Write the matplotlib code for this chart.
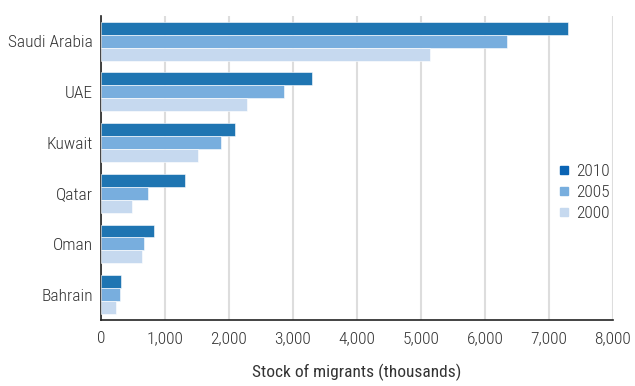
import matplotlib
matplotlib.use("Agg")
import matplotlib.pyplot as plt
from matplotlib.lines import Line2D
import numpy as np

plt.rcParams['font.family'] = ['Roboto Condensed', 'DejaVu Sans']
plt.rcParams['font.weight'] = 'light'

# Stock of migrants (thousands)
countries = ["Saudi Arabia", "UAE", "Kuwait", "Qatar", "Oman", "Bahrain"]
years = ["2010", "2005", "2000"]
stock_2010 = [7300, 3300, 2100, 1320, 835, 320]
stock_2005 = [6350, 2865, 1880, 730, 680, 290]
stock_2000 = [5150, 2290, 1510, 480, 635, 240]
colors = ["#1f75b2", "#78aede", "#c6d9ef"]

text_color = "#333333"
fs = 12.5

fig = plt.figure(figsize=(6.35, 3.86), dpi=100)
ax = fig.add_axes([0.159, 0.171, 0.806, 0.788])

y = np.arange(len(countries))
bar_h = 0.255
for i, (vals, c) in enumerate(zip([stock_2010, stock_2005, stock_2000], colors)):
    ax.barh(y + (i - 1) * bar_h, vals, height=bar_h, color=c,
            edgecolor="white", linewidth=0.4, zorder=3)

ax.set_xlim(0, 8000)
ax.set_ylim(len(countries) - 0.5, -0.5)
ax.set_yticks(y)
ax.set_yticklabels(countries, fontsize=fs, color=text_color)
ax.set_xticks(np.arange(0, 8001, 1000))
ax.set_xticklabels([f"{v:,}" for v in range(0, 8001, 1000)], fontsize=fs, color=text_color)
ax.tick_params(axis="y", length=0, pad=6)
ax.tick_params(axis="x", length=0, pad=8)

ax.grid(axis="x", color="#dddddd", linewidth=1.5, zorder=0)
for s in ["top", "right"]:
    ax.spines[s].set_visible(False)
ax.spines["left"].set_color("#222222")
ax.spines["bottom"].set_color("#222222")
ax.spines["left"].set_linewidth(1.2)
ax.spines["bottom"].set_linewidth(1.2)

ax.set_xlabel("Stock of migrants (thousands)", fontsize=fs, color=text_color, labelpad=13)

handles = [Line2D([0], [0], marker="s", linestyle="none", markersize=6,
                  markerfacecolor=c, markeredgecolor=c) for c in ["#0a64b4", colors[1], colors[2]]]
leg = ax.legend(handles, years, loc="center left", bbox_to_anchor=(0.86, 0.42),
                frameon=False, fontsize=fs, handletextpad=0.3, labelspacing=0.35,
                handlelength=0.8)
for t in leg.get_texts():
    t.set_color(text_color)

fig.savefig("out.png", dpi=100)
